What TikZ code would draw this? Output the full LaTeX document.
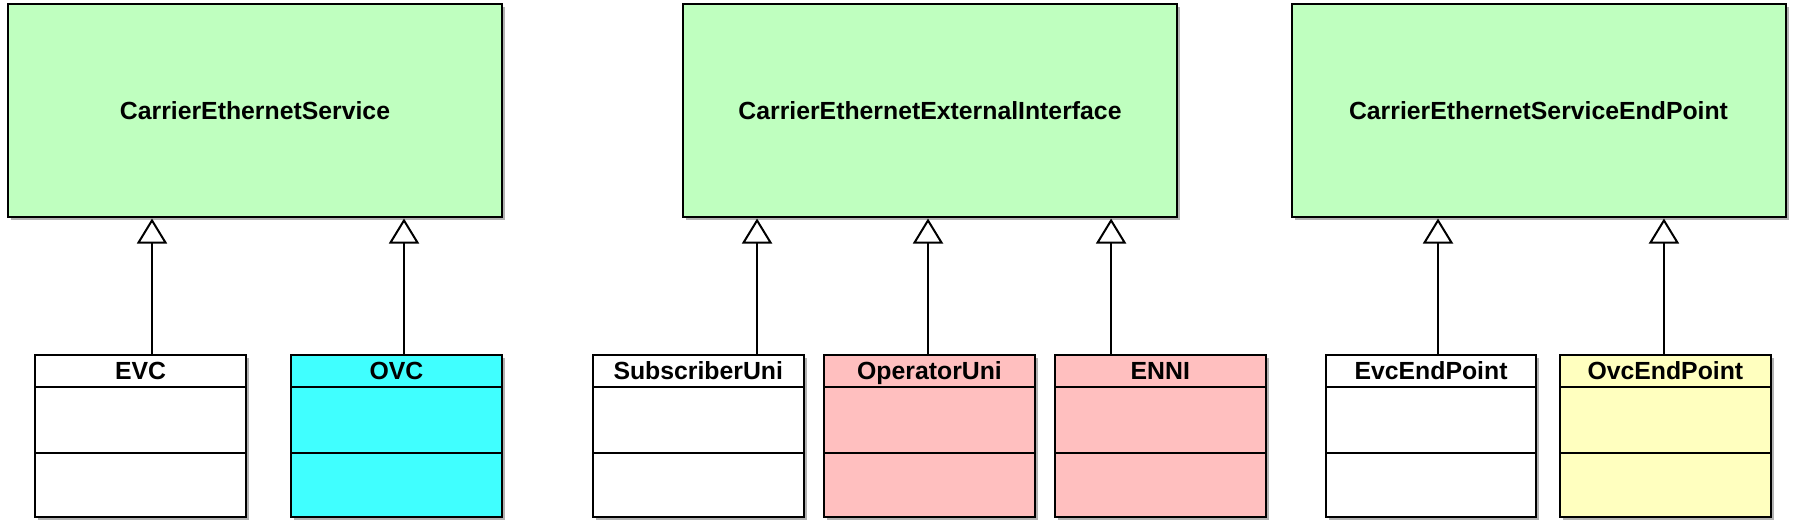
\documentclass[tikz,border=0pt]{standalone}
\usepackage{fontspec}
\setmainfont{Liberation Sans}
\usetikzlibrary{positioning,arrows.meta,shadows}
\definecolor{basegreen}{RGB}{191,255,191}
\definecolor{ovccyan}{RGB}{64,255,255}
\definecolor{unipink}{RGB}{255,191,191}
\definecolor{epyellow}{RGB}{255,255,191}

\begin{document}
\begin{tikzpicture}[x=0.5pt,y=-0.5pt,
  >={Triangle[length=12.5pt,width=15pt,fill=white]},
  font=\fontsize{12.4}{14}\selectfont\bfseries,
  shade/.style={drop shadow={shadow xshift=1.5pt,shadow yshift=-1.5pt,fill=black,opacity=0.3}},
  box/.style={draw,line width=1pt,inner sep=0pt,outer sep=0pt,text height=8.9pt,text depth=0pt,shade},
  base/.style={box,fill=basegreen,minimum width=247pt,minimum height=106.25pt},
  head/.style={box,minimum width=105.25pt,minimum height=15.85pt},
  attrs/.style={head,minimum height=33pt},
  ops/.style={head,minimum height=32.15pt},
  gen/.style={->,line width=1pt,shorten >=1pt}]
  \useasboundingbox (0,0) rectangle (1793,531);

  % Base classes
  \node[base] (ces) at (255,110.25) {CarrierEthernetService};
  \node[base] (ceei) at (930,110.25) {CarrierEthernetExternalInterface};
  \node[base] (cesep) at (1538.5,110.25) {CarrierEthernetServiceEndPoint};

  % Services
  \node[head,fill=white] (evc) at (140.5,370.85) {EVC};
  \node[attrs,fill=white,below=0pt of evc] (evc attrs) {};
  \node[ops,fill=white,below=0pt of evc attrs] (evc ops) {};

  \node[head,fill=ovccyan] (ovc) at (396.5,370.85) {OVC};
  \node[attrs,fill=ovccyan,below=0pt of ovc] (ovc attrs) {};
  \node[ops,fill=ovccyan,below=0pt of ovc attrs] (ovc ops) {};

  % Interfaces
  \node[head,fill=white] (suni) at (698.25,370.85) {SubscriberUni};
  \node[attrs,fill=white,below=0pt of suni] (suni attrs) {};
  \node[ops,fill=white,below=0pt of suni attrs] (suni ops) {};

  \node[head,fill=unipink] (ouni) at (929.5,370.85) {OperatorUni};
  \node[attrs,fill=unipink,below=0pt of ouni] (ouni attrs) {};
  \node[ops,fill=unipink,below=0pt of ouni attrs] (ouni ops) {};

  \node[head,fill=unipink] (enni) at (1160.3,370.85) {ENNI};
  \node[attrs,fill=unipink,below=0pt of enni] (enni attrs) {};
  \node[ops,fill=unipink,below=0pt of enni attrs] (enni ops) {};

  % End points
  \node[head,fill=white] (evcep) at (1431,370.85) {EvcEndPoint};
  \node[attrs,fill=white,below=0pt of evcep] (evcep attrs) {};
  \node[ops,fill=white,below=0pt of evcep attrs] (evcep ops) {};

  \node[head,fill=epyellow] (ovcep) at (1665.35,370.85) {OvcEndPoint};
  \node[attrs,fill=epyellow,below=0pt of ovcep] (ovcep attrs) {};
  \node[ops,fill=epyellow,below=0pt of ovcep attrs] (ovcep ops) {};

  % Generalisations
  \coordinate (evc up) at ([xshift=5.75pt]evc.north);
  \coordinate (ovc up) at ([xshift=3.75pt]ovc.north);
  \coordinate (suni up) at ([xshift=29.4pt]suni.north);
  \coordinate (ouni up) at ([xshift=-0.75pt]ouni.north);
  \coordinate (enni up) at ([xshift=-24.6pt]enni.north);
  \coordinate (evcep up) at ([xshift=3.5pt]evcep.north);
  \coordinate (ovcep up) at ([xshift=-0.7pt]ovcep.north);
  \draw[gen] (evc up) -- (evc up |- ces.south);
  \draw[gen] (ovc up) -- (ovc up |- ces.south);
  \draw[gen] (suni up) -- (suni up |- ceei.south);
  \draw[gen] (ouni up) -- (ouni up |- ceei.south);
  \draw[gen] (enni up) -- (enni up |- ceei.south);
  \draw[gen] (evcep up) -- (evcep up |- cesep.south);
  \draw[gen] (ovcep up) -- (ovcep up |- cesep.south);

\end{tikzpicture}
\end{document}
